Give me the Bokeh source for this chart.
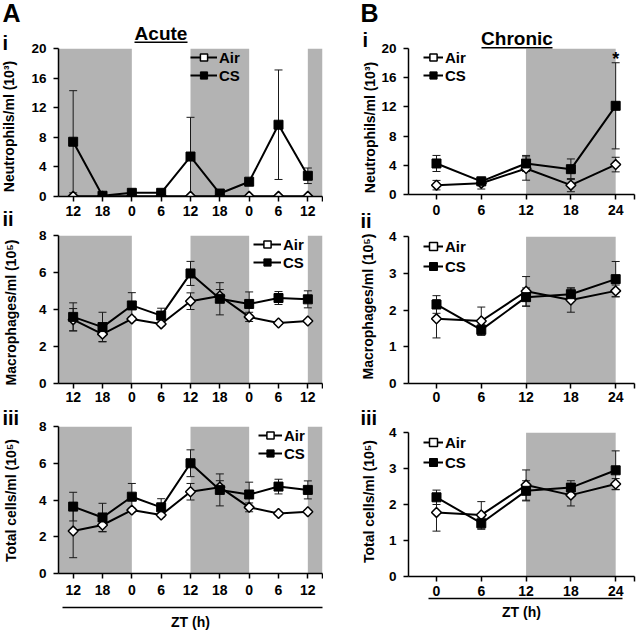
import math
from bokeh.plotting import figure
from bokeh.layouts import row, column
from bokeh.models import (Range1d, FixedTicker, LinearAxis, Label, Legend,
                          LegendItem, BoxAnnotation, GridBox)
from bokeh.core.properties import value
from bokeh.embed import file_html
from bokeh.resources import INLINE

# ---------------- data ----------------
ZT_ACUTE = ["12", "18", "0", "6", "12", "18", "0", "6", "12"]
ZT_CHRONIC = ["0", "6", "12", "18", "24"]

# dark phase (shaded), in category-index units
ACUTE_DARK_START = [-0.5, 4, 8]
ACUTE_DARK_END = [2, 6, 8.5]
CHRONIC_DARK_START = [2]
CHRONIC_DARK_END = [4]

NEUT_YTICKS = [0, 4, 8, 12, 16, 20]
ACUTE_CELL_YTICKS = [0, 2, 4, 6, 8]
CHRONIC_CELL_YTICKS = [0, 1, 2, 3, 4]

# Acute - neutrophils (10^3/ml)
ACUTE_NEUT_AIR = [0.02, 0.02, 0.05, 0.05, 0.02, 0.02, 0.02, 0.02, 0.02]
ACUTE_NEUT_AIR_ERR = [0.02, 0.02, 0.02, 0.02, 0.02, 0.02, 0.02, 0.02, 0.02]
ACUTE_NEUT_CS = [7.4, 0.1, 0.5, 0.5, 5.4, 0.4, 2.0, 9.7, 2.8]
ACUTE_NEUT_CS_ERR = [6.9, 0.1, 0.2, 0.1, 5.3, 0.2, 0.2, 7.4, 1.05]

# Acute - macrophages (10^5/ml)
ACUTE_MAC_AIR = [3.45, 2.67, 3.49, 3.22, 4.45, 4.73, 3.6, 3.27, 3.38]
ACUTE_MAC_AIR_ERR = [0.6, 0.4, 0.1, 0.1, 0.45, 0.35, 0.25, 0.08, 0.08]
ACUTE_MAC_CS = [3.6, 3.05, 4.22, 3.67, 5.95, 4.58, 4.3, 4.62, 4.55]
ACUTE_MAC_CS_ERR = [0.76, 0.8, 0.69, 0.4, 0.65, 0.87, 0.65, 0.35, 0.46]

# Acute - total cells (10^5/ml)
ACUTE_TOT_AIR = [2.31, 2.64, 3.45, 3.18, 4.45, 4.7, 3.6, 3.27, 3.36]
ACUTE_TOT_AIR_ERR = [1.45, 0.37, 0.1, 0.1, 0.45, 0.35, 0.24, 0.08, 0.08]
ACUTE_TOT_CS = [3.64, 3.05, 4.18, 3.6, 6.0, 4.55, 4.3, 4.73, 4.55]
ACUTE_TOT_CS_ERR = [0.78, 0.77, 0.72, 0.47, 0.73, 0.87, 0.67, 0.4, 0.49]

# Chronic - neutrophils (10^3/ml)
CHRONIC_NEUT_AIR = [1.28, 1.55, 3.56, 1.28, 4.1]
CHRONIC_NEUT_AIR_ERR = [0.65, 0.8, 1.6, 0.9, 1.0]
CHRONIC_NEUT_CS = [4.25, 1.8, 4.25, 3.47, 12.15]
CHRONIC_NEUT_CS_ERR = [1.1, 0.3, 1.1, 1.4, 5.9]
CHRONIC_NEUT_SIG = ["", "", "", "", "*"]

# Chronic - macrophages (10^5/ml)
CHRONIC_MAC_AIR = [1.76, 1.7, 2.51, 2.27, 2.52]
CHRONIC_MAC_AIR_ERR = [0.52, 0.38, 0.4, 0.33, 0.16]
CHRONIC_MAC_CS = [2.15, 1.46, 2.35, 2.43, 2.84]
CHRONIC_MAC_CS_ERR = [0.24, 0.15, 0.25, 0.17, 0.48]

# Chronic - total cells (10^5/ml)
CHRONIC_TOT_AIR = [1.78, 1.71, 2.54, 2.26, 2.57]
CHRONIC_TOT_AIR_ERR = [0.52, 0.37, 0.42, 0.3, 0.15]
CHRONIC_TOT_CS = [2.2, 1.48, 2.38, 2.47, 2.95]
CHRONIC_TOT_CS_ERR = [0.2, 0.17, 0.28, 0.19, 0.54]

Y_TITLES = ["Neutrophils/ml (10³)", "Macrophages/ml (10⁵)", "Total cells/ml (10⁵)"]

# ---------------- style ----------------
FONT = "Liberation Sans"
INK = "black"
SHADE = "#b3b3b3"
ERR = "#1a1a1a"
PAGE_W, PAGE_H = 639, 630


def make_panel(cats, dark_start, dark_end, yticks, air, air_err, cs, cs_err,
               g, sig=None):
    xs = list(range(len(cats)))
    ymax = yticks[-1]
    p = figure(frame_width=g["fw"], frame_height=g["fh"], title=None,
               min_border_left=g["bl"], min_border_right=g["br"],
               min_border_top=g["bt"], min_border_bottom=g["bb"],
               x_range=Range1d(g["x0"], g["x1"]), y_range=Range1d(0, ymax),
               output_backend="svg", toolbar_location=None,
               background_fill_color="white", border_fill_color="white")
    p.outline_line_color = None
    p.xgrid.visible = False
    p.ygrid.visible = False

    p.quad(left=dark_start, right=dark_end, bottom=0, top=ymax,
           fill_color=SHADE, line_color=None)

    for vals, errs in ((air, air_err), (cs, cs_err)):
        lo = [v - e for v, e in zip(vals, errs)]
        hi = [v + e for v, e in zip(vals, errs)]
        p.segment(x0=xs, y0=lo, x1=xs, y1=hi, line_color=ERR, line_width=1)
        p.scatter(x=xs + xs, y=lo + hi, marker="dash", size=8,
                  line_color=ERR, line_width=1)

    air_line = p.line(xs, air, line_color=INK, line_width=2)
    cs_line = p.line(xs, cs, line_color=INK, line_width=2)
    air_pts = p.scatter(xs, air, marker="square", angle=math.pi / 4, size=7,
                        fill_color="white", line_color=INK, line_width=1.5)
    cs_pts = p.scatter(xs, cs, marker="square", size=9,
                       fill_color=INK, line_color=INK, line_width=1)

    # x axis
    xa = p.xaxis[0]
    xa.ticker = FixedTicker(ticks=xs, minor_ticks=[g["x1"]])
    xa.major_label_overrides = {i: c for i, c in enumerate(cats)}
    xa.major_tick_out = 5
    xa.major_tick_in = 0
    xa.minor_tick_out = 5
    xa.minor_tick_in = 0
    xa.minor_tick_line_color = INK
    xa.minor_tick_line_width = 1.5
    xa.major_label_standoff = g["xstand"]
    xa.major_label_text_font_size = "14px"

    # y axis (its title is drawn on the overlay)
    ya = p.yaxis[0]
    ya.ticker = FixedTicker(ticks=yticks)
    ya.major_tick_out = 5
    ya.major_tick_in = 0
    ya.minor_tick_out = 0
    ya.major_label_standoff = 7
    ya.major_label_text_font_size = "13.5px"

    for ax in (xa, ya):
        ax.axis_line_color = INK
        ax.axis_line_width = 1.5
        ax.major_tick_line_color = INK
        ax.major_tick_line_width = 1.5
        ax.major_label_text_font = FONT
        ax.major_label_text_font_style = "bold"
        ax.major_label_text_color = INK

    if "zt" in g:
        z = g["zt"]
        if z.get("gap"):
            xa.axis_label = " "
            xa.axis_label_text_font_size = "1px"
            xa.axis_label_standoff = z["gap"]
        ax2 = LinearAxis(ticker=FixedTicker(ticks=[]), bounds=z["bounds"],
                         axis_label="ZT (h)", axis_line_color=INK,
                         axis_line_width=1.5, major_tick_out=0,
                         major_tick_in=0, minor_tick_out=0, minor_tick_in=0,
                         major_label_standoff=0,
                         axis_label_standoff=z["stand"],
                         axis_label_text_font=FONT,
                         axis_label_text_font_style="bold",
                         axis_label_text_font_size="14px",
                         axis_label_text_color=INK)
        p.add_layout(ax2, "below")

    lg = g["legend"]
    legend = Legend(items=[LegendItem(label="Air", renderers=[air_line, air_pts]),
                           LegendItem(label="CS", renderers=[cs_line, cs_pts])],
                    location=(lg["x"], lg["y"]), orientation="vertical",
                    padding=0, margin=0, spacing=lg["sp"],
                    glyph_width=lg["gw"], glyph_height=lg["gh"],
                    label_height=lg["gh"],
                    label_standoff=2, label_text_font=FONT,
                    label_text_font_style="bold", label_text_font_size="15px",
                    label_text_color=INK,
                    background_fill_alpha=0, border_line_alpha=0)
    p.add_layout(legend)

    if sig is not None:
        sx = [xs[i] for i, s in enumerate(sig) if s]
        sy = [cs[i] + cs_err[i] for i, s in enumerate(sig) if s]
        st = [s for s in sig if s]
        p.text(x=sx, y=sy, text=st, text_font=value(FONT), text_font_style="bold",
               text_font_size="18px", text_color=INK, text_align="center",
               text_baseline="middle", y_offset=-4)
    return p


LEFT = dict(fw=264, bl=58, br=1, x0=-0.5, x1=8.5)
RIGHT = dict(fw=226, bl=85, br=5, x0=-0.625, x1=4.42)

gL1 = dict(LEFT, fh=148, bt=48, bb=26, xstand=4,
           legend=dict(x=132, y=112, gw=27, gh=18, sp=0))
gL2 = dict(LEFT, fh=148, bt=13, bb=25, xstand=3,
           legend=dict(x=195, y=112, gw=28, gh=18, sp=0))
gL3 = dict(LEFT, fh=147, bt=18, bb=57, xstand=6,
           legend=dict(x=200, y=111, gw=24, gh=18, sp=0),
           zt=dict(bounds=(-0.36, 8.5), gap=6, stand=6))

gR1 = dict(RIGHT, fh=146, bt=48, bb=27, xstand=5,
           legend=dict(x=15, y=110, gw=20, gh=18, sp=0))
gR2 = dict(RIGHT, fh=147, bt=15, bb=25, xstand=3,
           legend=dict(x=15, y=107, gw=20, gh=20, sp=0))
gR3 = dict(RIGHT, fh=144, bt=24, bb=54, xstand=4,
           legend=dict(x=15, y=104, gw=20, gh=20, sp=0),
           zt=dict(bounds=(-0.18, 4.16), gap=0, stand=5))

L1 = make_panel(ZT_ACUTE, ACUTE_DARK_START, ACUTE_DARK_END, NEUT_YTICKS,
                ACUTE_NEUT_AIR, ACUTE_NEUT_AIR_ERR, ACUTE_NEUT_CS, ACUTE_NEUT_CS_ERR, gL1)
L2 = make_panel(ZT_ACUTE, ACUTE_DARK_START, ACUTE_DARK_END, ACUTE_CELL_YTICKS,
                ACUTE_MAC_AIR, ACUTE_MAC_AIR_ERR, ACUTE_MAC_CS, ACUTE_MAC_CS_ERR, gL2)
L3 = make_panel(ZT_ACUTE, ACUTE_DARK_START, ACUTE_DARK_END, ACUTE_CELL_YTICKS,
                ACUTE_TOT_AIR, ACUTE_TOT_AIR_ERR, ACUTE_TOT_CS, ACUTE_TOT_CS_ERR, gL3)
R1 = make_panel(ZT_CHRONIC, CHRONIC_DARK_START, CHRONIC_DARK_END, NEUT_YTICKS,
                CHRONIC_NEUT_AIR, CHRONIC_NEUT_AIR_ERR, CHRONIC_NEUT_CS, CHRONIC_NEUT_CS_ERR,
                gR1, sig=CHRONIC_NEUT_SIG)
R2 = make_panel(ZT_CHRONIC, CHRONIC_DARK_START, CHRONIC_DARK_END, CHRONIC_CELL_YTICKS,
                CHRONIC_MAC_AIR, CHRONIC_MAC_AIR_ERR, CHRONIC_MAC_CS, CHRONIC_MAC_CS_ERR, gR2)
R3 = make_panel(ZT_CHRONIC, CHRONIC_DARK_START, CHRONIC_DARK_END, CHRONIC_CELL_YTICKS,
                CHRONIC_TOT_AIR, CHRONIC_TOT_AIR_ERR, CHRONIC_TOT_CS, CHRONIC_TOT_CS_ERR, gR3)

main = row(column(L1, L2, L3), column(R1, R2, R3))

# transparent overlay carrying panel letters, section titles and y-axis titles
ov = figure(width=PAGE_W, height=PAGE_H, title=None, x_range=Range1d(0, PAGE_W),
            y_range=Range1d(PAGE_H, 0), x_axis_type=None, y_axis_type=None,
            min_border=0, toolbar_location=None, output_backend="svg",
            background_fill_color=None, border_fill_color=None)
ov.outline_line_color = None

BASELINE_SHIFT = 7.5  # label anchor is the text's visual middle
# (text, x, baseline y, size, align)
OVERLAY_TEXT = [
    ("A", 2, 20, "25px", "left"),
    ("i", 2, 50, "20px", "left"),
    ("Acute", 160.5, 40, "19px", "center"),
    ("ii", 2, 225.7, "20px", "left"),
    ("iii", 2, 425, "20px", "left"),
    ("B", 360, 20, "25px", "left"),
    ("i", 362, 46.7, "20px", "left"),
    ("Chronic", 516.5, 45, "19px", "center"),
    ("ii", 360, 228.3, "20px", "left"),
    ("iii", 360, 425, "20px", "left"),
]
for txt, x, y, size, align in OVERLAY_TEXT:
    ov.add_layout(Label(x=x, y=y - BASELINE_SHIFT, text=txt, text_font=FONT,
                        text_font_style="bold", text_font_size=size,
                        text_color=INK, text_align=align,
                        text_baseline="middle"))

# rotated y-axis titles: (title index, centre x, centre y)
Y_TITLE_POS = [(0, 8, 126), (1, 10.5, 312), (2, 10, 500),
               (0, 369, 127), (1, 367.5, 306), (2, 368.5, 501)]
for k, x, y in Y_TITLE_POS:
    ov.add_layout(Label(x=x, y=y, text=Y_TITLES[k], angle=math.pi / 2,
                        text_font=FONT, text_font_style="bold",
                        text_font_size="14px", text_color=INK,
                        text_align="center", text_baseline="middle"))

# underlines of the section titles: (left, right, top, bottom)
UNDERLINES = [(134, 187, 41, 42.5), (481, 552, 46.5, 48)]
for l, r, t, b in UNDERLINES:
    ov.add_layout(BoxAnnotation(left=l, right=r, top=t, bottom=b,
                                fill_color=INK, fill_alpha=1, line_color=None))

layout = GridBox(children=[(main, 0, 0), (ov, 0, 0)])

with open("out.html", "w") as f:
    f.write(file_html(layout, INLINE, title="Acute and chronic CS exposure"))
